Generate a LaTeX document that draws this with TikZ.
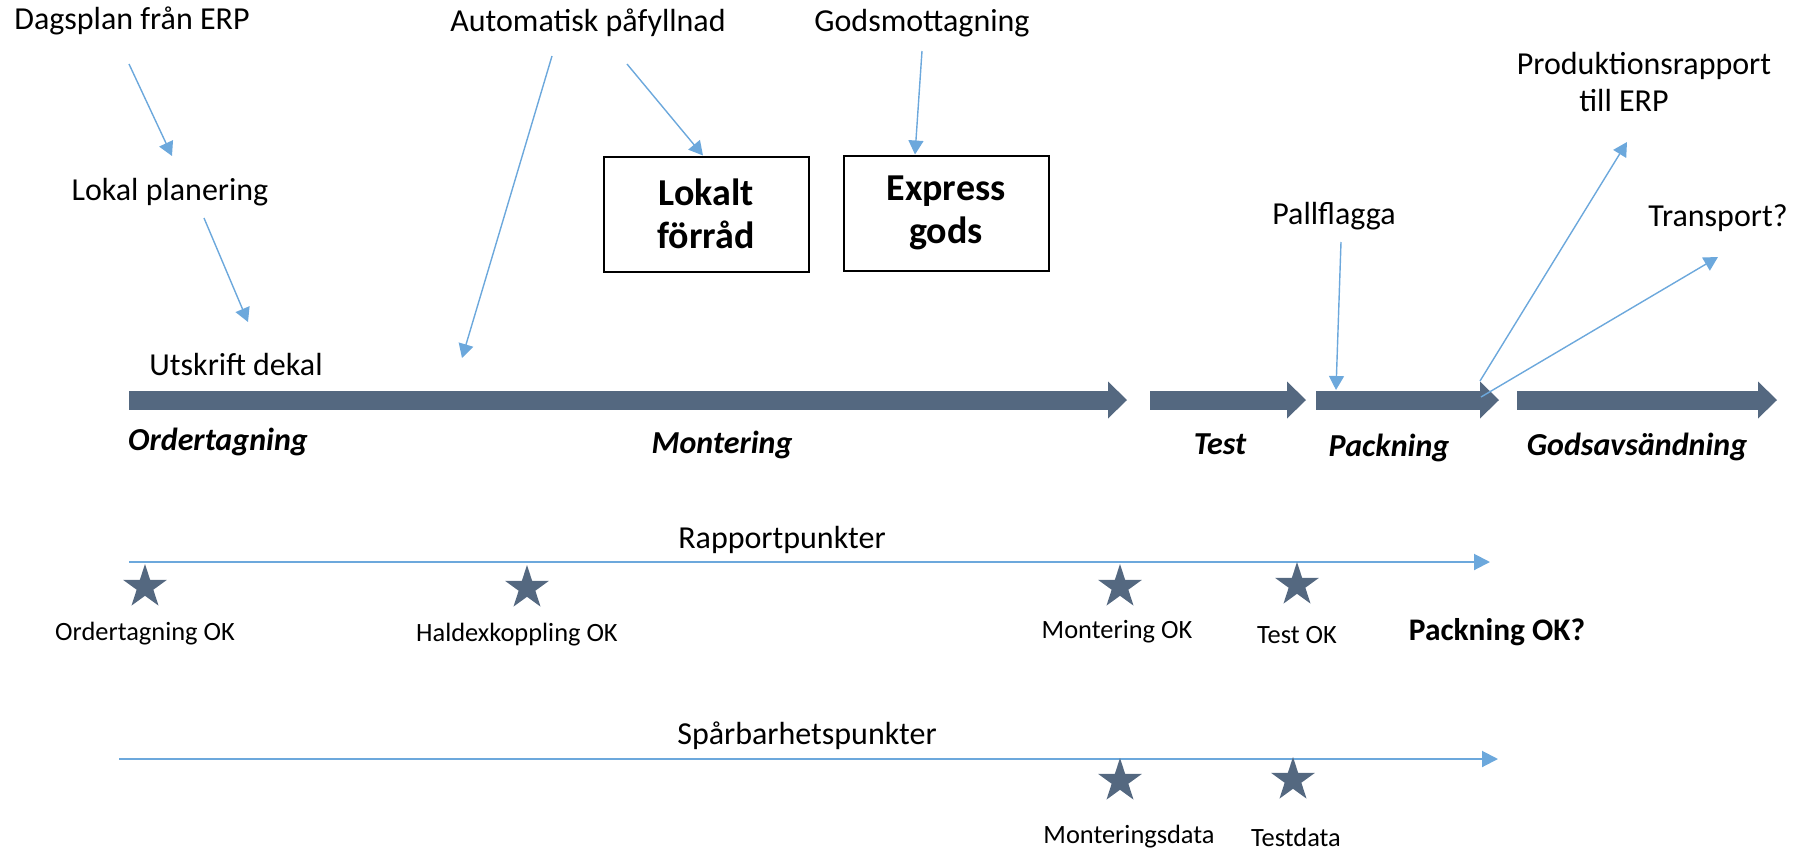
\documentclass[tikz,border=0pt]{standalone}
\usepackage{fontspec}
\setmainfont{Carlito}
\usetikzlibrary{arrows.meta,shapes.geometric}
\definecolor{slate}{RGB}{84,104,128}
\definecolor{linkblue}{RGB}{108,168,220}

\begin{document}
\begin{tikzpicture}[x=0.5pt,y=-0.5pt,
    lbl/.style={inner sep=0pt,font=\fontsize{16}{19}\selectfont},
    stagelbl/.style={inner sep=0pt,font=\fontsize{16}{19}\selectfont\bfseries\itshape},
    pointlbl/.style={inner sep=0pt,font=\fontsize{13.2}{16}\selectfont},
    store/.style={draw,line width=1pt,minimum width=102.5pt,minimum height=57.5pt,
      align=center,inner sep=0pt,font=\fontsize{19}{21.5}\selectfont\bfseries},
    flow/.style={draw=slate,line width=9.5pt,-{Triangle[length=9.5pt,width=18.5pt,line width=0pt]}},
    link/.style={draw=linkblue,line width=0.7pt,-{Triangle[length=7pt,width=7.5pt]}},
    track/.style={draw=linkblue,line width=1pt,-{Triangle[length=8pt,width=8pt]}},
    spot/.style={star,star points=5,star point ratio=2.618,fill=slate,inner sep=0pt,minimum size=23pt}]
  \useasboundingbox (0,0) rectangle (1801,853);

  % inputs above the flow
  \node[lbl] (dagsplan) at (132,21) {Dagsplan från ERP};
  \node[lbl] (lokalplan) at (170,192) {Lokal planering};
  \node[lbl] (utskrift) at (236,364) {Utskrift dekal};
  \node[lbl] (autofyll) at (588,23) {Automatisk påfyllnad};
  \node[lbl] (godsmott) at (922,23) {Godsmottagning};
  \node[lbl,align=center] (prodrapp) at (1644,82) {Produktionsrapport\\till ERP\hspace*{20pt}};
  \node[lbl] (pallflagga) at (1334,216) {Pallflagga};
  \node[lbl] (transport) at (1718,218) {Transport?};

  \node[store] (lokalt) at (706,214) {Lokalt\\förråd};
  \node[store] (express) at (946,213) {Express\\gods};

  % the flow
  \coordinate (mont-s) at (129,400);
  \coordinate (mont-e) at (1127,400);
  \coordinate (test-s) at (1150,400);
  \coordinate (test-e) at (1306,400);
  \coordinate (pack-s) at (1316,400);
  \coordinate (pack-e) at (1499,400);
  \coordinate (gods-s) at (1517,400);
  \coordinate (gods-e) at (1777,400);
  \draw[flow] (mont-s) -- (mont-e);
  \draw[flow] (test-s) -- (test-e);
  \draw[flow] (pack-s) -- (pack-e);
  \draw[flow] (gods-s) -- (gods-e);

  \node[stagelbl] (ordertagning) at (218,442) {Ordertagning};
  \node[stagelbl] (montering) at (722,445) {Montering};
  \node[stagelbl] (test) at (1220,444) {Test};
  \node[stagelbl] (packning) at (1389,448) {Packning};
  \node[stagelbl] (godsavs) at (1637,447) {Godsavsändning};

  % thin arrows
  \coordinate (fyll-end) at (462,358);
  \draw[link] ([shift={(-3,43)}]dagsplan.center) -- ([shift={(2,-36)}]lokalplan.center);
  \draw[link] ([shift={(34,26)}]lokalplan.center) -- ([shift={(12,-42)}]utskrift.center);
  \draw[link] ([shift={(-36,33)}]autofyll.center) -- (fyll-end);
  \draw[link] ([shift={(39,41)}]autofyll.center) -- ([shift={(-3,0)}]lokalt.north);
  \draw[link] ([shift={(0,28)}]godsmott.center) -- ([shift={(-31,0)}]express.north);
  \draw[link] ([shift={(7,26)}]pallflagga.center) -- ([shift={(20,-10)}]pack-s);
  \draw[link] ([shift={(-19,-19)}]pack-e) -- ([shift={(-17,60)}]prodrapp.center);
  \draw[link] ([shift={(-18,-3)}]pack-e) -- ([shift={(0,39)}]transport.center);

  % report points
  \node[lbl] (rapport) at (782,540) {Rapportpunkter};
  \coordinate (rap-s) at (129,562);
  \coordinate (rap-e) at (1490,562);
  \draw[track] (rap-s) -- (rap-e);
  \node[spot] (s1) at (145,587) {};
  \node[spot] (s2) at (527,588) {};
  \node[spot] (s3) at (1120,587) {};
  \node[spot] (s4) at (1297,585) {};
  \node[pointlbl] at (145,634) {Ordertagning OK};
  \node[pointlbl] at (517,635) {Haldexkoppling OK};
  \node[pointlbl] at (1117,632) {Montering OK};
  \node[pointlbl] at (1297,635) {Test OK};
  \node[lbl,font=\fontsize{15.7}{18}\selectfont\bfseries] at (1497,632) {Packning OK?};

  % traceability points
  \node[lbl] (spar) at (807,736) {Spårbarhetspunkter};
  \coordinate (spar-s) at (119,759);
  \coordinate (spar-e) at (1498,759);
  \draw[track] (spar-s) -- (spar-e);
  \node[spot] (t1) at (1120,781) {};
  \node[spot] (t2) at (1293,780) {};
  \node[pointlbl] at (1129,837) {Monteringsdata};
  \node[pointlbl] at (1296,837) {Testdata};
\end{tikzpicture}
\end{document}
